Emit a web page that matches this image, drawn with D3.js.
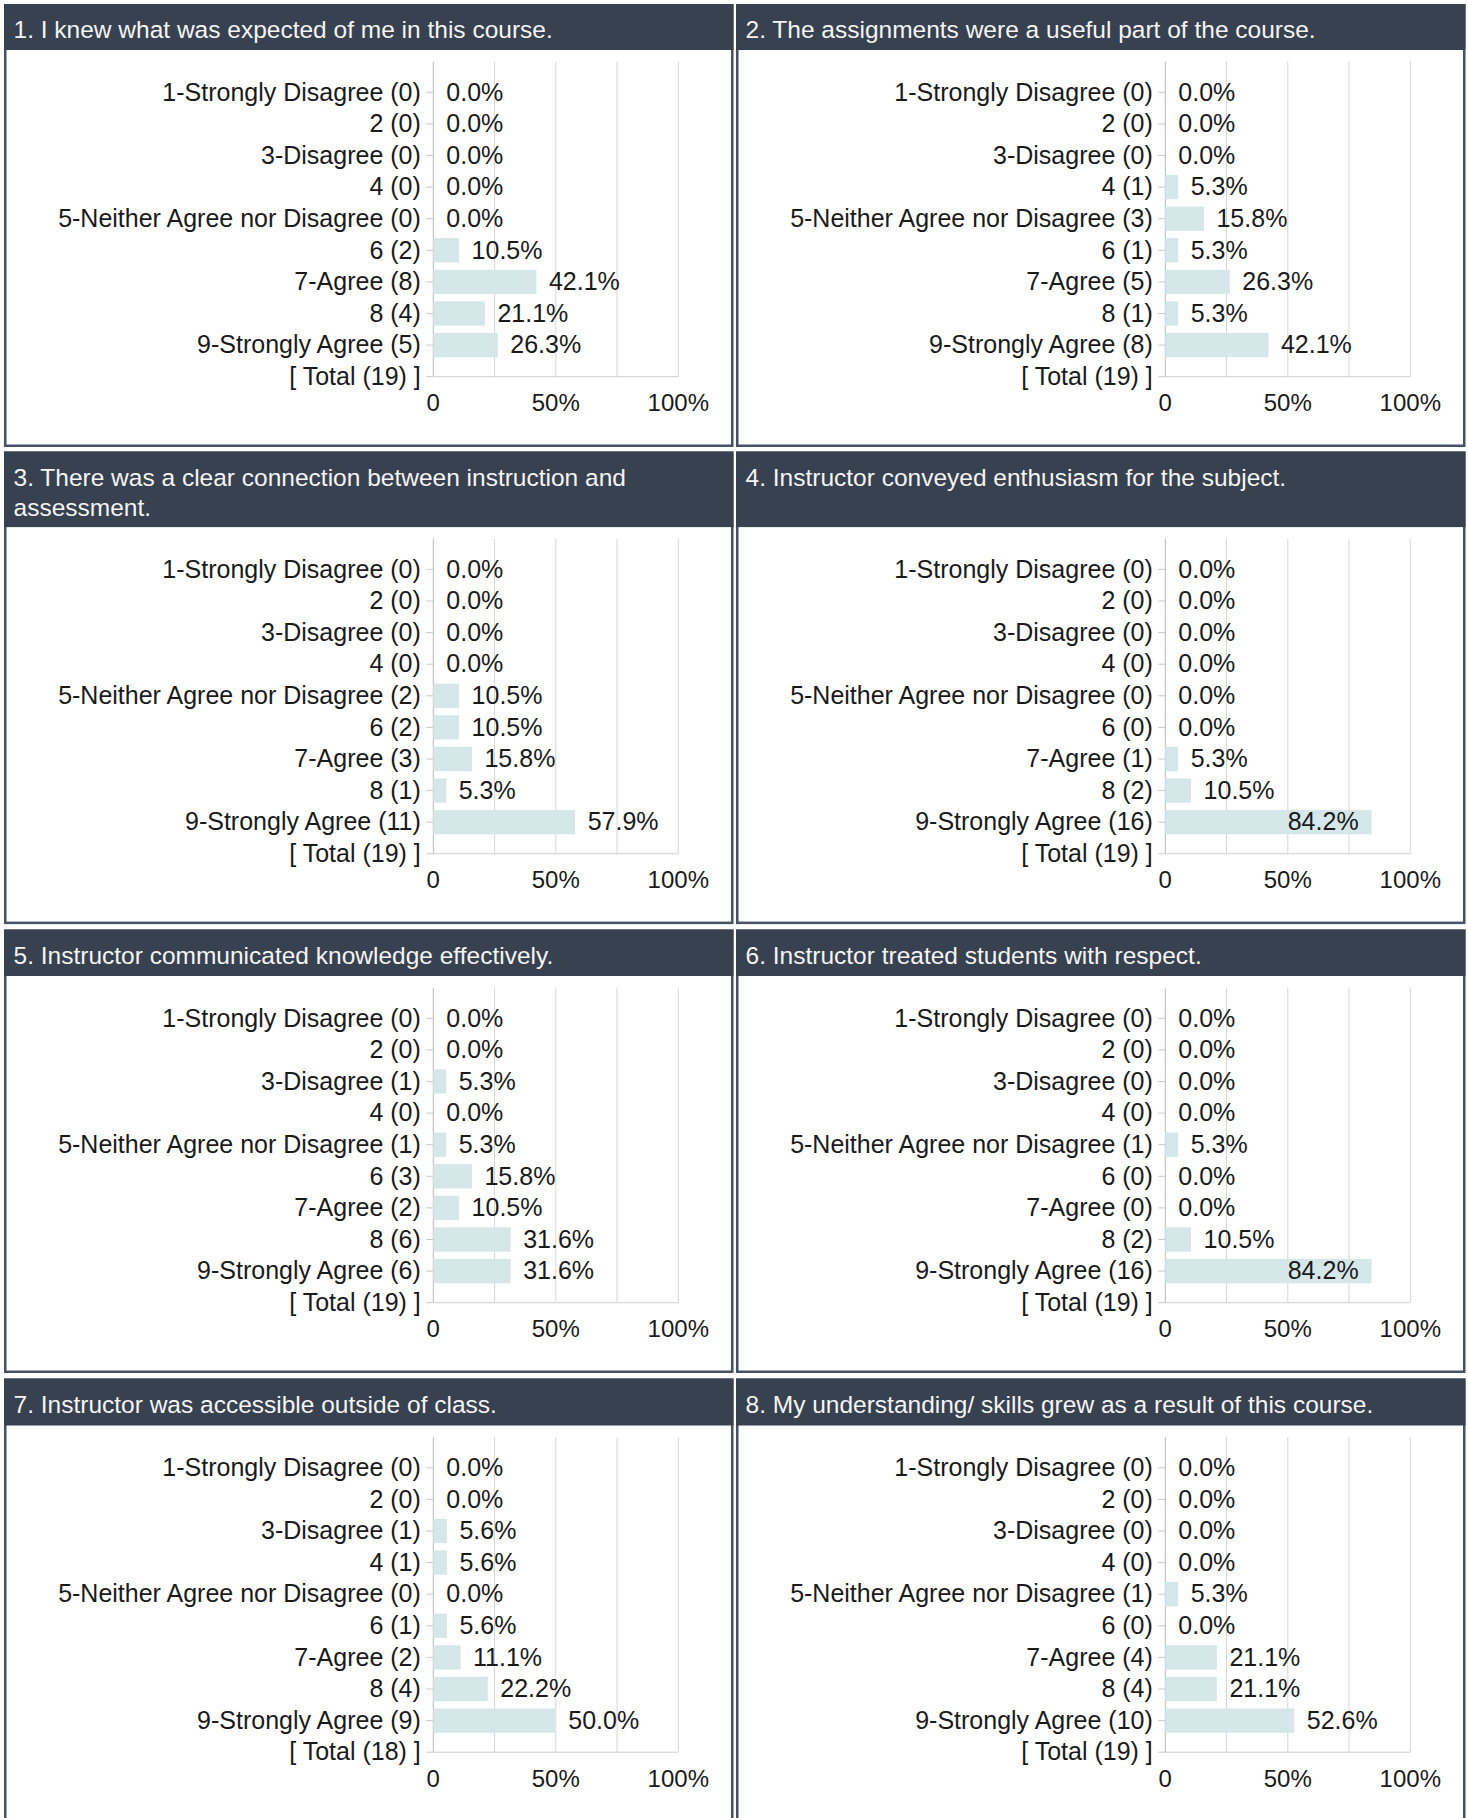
<!DOCTYPE html>
<html>
<head>
<meta charset="utf-8">
<script src="https://cdn.jsdelivr.net/npm/d3@7"></script>
<style>
  body { margin: 0; background: #fff; }
  text { font-family: "Liberation Sans", Arial, sans-serif; }
</style>
</head>
<body>
<script>
const width = 1468, height = 1818;

// answer scale, same for every question
const categories = ["1-Strongly Disagree", "2", "3-Disagree", "4", "5-Neither Agree nor Disagree",
                    "6", "7-Agree", "8", "9-Strongly Agree"];

const titles = [
  ["1. I knew what was expected of me in this course."],
  ["2. The assignments were a useful part of the course."],
  ["3. There was a clear connection between instruction and", "assessment."],
  ["4. Instructor conveyed enthusiasm for the subject."],
  ["5. Instructor communicated knowledge effectively."],
  ["6. Instructor treated students with respect."],
  ["7. Instructor was accessible outside of class."],
  ["8. My understanding/ skills grew as a result of this course."]
];

// response counts per question, in category order
const q1 = [0, 0, 0, 0, 0, 2, 8, 4, 5];
const q2 = [0, 0, 0, 1, 3, 1, 5, 1, 8];
const q3 = [0, 0, 0, 0, 2, 2, 3, 1, 11];
const q4 = [0, 0, 0, 0, 0, 0, 1, 2, 16];
const q5 = [0, 0, 1, 0, 1, 3, 2, 6, 6];
const q6 = [0, 0, 0, 0, 1, 0, 0, 2, 16];
const q7 = [0, 0, 1, 1, 0, 1, 2, 4, 9];
const q8 = [0, 0, 0, 0, 1, 0, 4, 4, 10];
const counts = [q1, q2, q3, q4, q5, q6, q7, q8];
const totals = [19, 19, 19, 19, 19, 19, 18, 19];

const xTickValues = [0, 0.5, 1];
const xTickLabels = ["0", "50%", "100%"];
const gridValues = [0, 0.25, 0.5, 0.75, 1];

// layout
const colX = [4, 736], panelW = 729.5;
const rowTop = [4, 451.5, 929.5, 1378.5];
const headerH = [46, 75.6, 46.5, 47];
const bodyH = 397;
const borderColor = "#455165", headerColor = "#37414f";
const barColor = "#d5e7e9";

const svg = d3.select("body").append("svg")
    .attr("width", width).attr("height", height);

counts.forEach((vals, qi) => {
    const px = colX[qi % 2];
    const r = Math.floor(qi / 2);
    const py = rowTop[r];
    const hb = py + headerH[r];
    const g = svg.append("g");

    // panel frame + header
    g.append("rect")
        .attr("x", px + 1.25).attr("y", py + 1.25)
        .attr("width", panelW - 2.5).attr("height", headerH[r] + bodyH - 2.5)
        .attr("fill", "#fff").attr("stroke", borderColor).attr("stroke-width", 2.5);
    g.append("rect")
        .attr("x", px).attr("y", py)
        .attr("width", panelW).attr("height", headerH[r])
        .attr("fill", headerColor);
    g.append("g").selectAll("text").data(titles[qi]).enter().append("text")
        .attr("x", px + 9.5)
        .attr("y", (d, i) => py + 34 + i * 30)
        .attr("fill", "#f4f4f4")
        .attr("font-size", 24.5)
        .text(d => d);

    const axisX = px + 429.3;
    const x = d3.scaleLinear().domain([0, 1]).range([axisX, axisX + 245]);
    const rows = categories.map((c, i) => `${c} (${vals[i]})`);
    const totalLabel = `[ Total (${totals[qi]}) ]`;
    const y = d3.scalePoint().domain([...rows, totalLabel]).range([hb + 42.3, hb + 326.7]);
    const gridTop = hb + 11.7, base = y(totalLabel);

    // gridlines
    g.append("g").selectAll("line").data(gridValues).enter().append("line")
        .attr("x1", d => x(d)).attr("x2", d => x(d))
        .attr("y1", gridTop).attr("y2", base)
        .attr("stroke", d => d === 0 ? "#b8b8b8" : "#d6d6d6").attr("stroke-width", 1);
    // baseline
    g.append("line")
        .attr("x1", x(0)).attr("x2", x(1)).attr("y1", base).attr("y2", base)
        .attr("stroke", "#cfcfcf");

    // category ticks and labels
    const yAxis = g.append("g");
    yAxis.selectAll("line").data(y.domain()).enter().append("line")
        .attr("x1", axisX - 7).attr("x2", axisX)
        .attr("y1", d => y(d)).attr("y2", d => y(d))
        .attr("stroke", "#c8c8c8");
    yAxis.selectAll("text").data(y.domain()).enter().append("text")
        .attr("x", axisX - 12.5).attr("y", d => y(d)).attr("dy", "0.33em")
        .attr("text-anchor", "end").attr("font-size", 25).attr("fill", "#1a1a1a")
        .text(d => d);

    // bars
    const data = vals.map((v, i) => ({ row: rows[i], pct: v / totals[qi] }));
    const barH = 24.3;
    g.append("g").selectAll("rect").data(data).enter().append("rect")
        .attr("x", x(0)).attr("y", d => y(d.row) - barH / 2)
        .attr("width", d => x(d.pct) - x(0)).attr("height", barH)
        .attr("fill", barColor);

    // value labels
    g.append("g").selectAll("text").data(data).enter().append("text")
        .attr("y", d => y(d.row)).attr("dy", "0.33em")
        .attr("font-size", 25).attr("fill", "#1a1a1a")
        .text(d => (d.pct * 100).toFixed(1) + "%")
        .each(function(d) {
            const t = d3.select(this);
            const w = this.getComputedTextLength();
            const end = x(d.pct);
            if (end + 12.5 + w > x(1) + 30) {
                t.attr("x", end - 13).attr("text-anchor", "end");
            } else {
                t.attr("x", d.pct === 0 ? end + 13 : end + 12.5);
            }
        });

    // x tick labels
    g.append("g").selectAll("text").data(xTickValues).enter().append("text")
        .attr("x", d => x(d)).attr("y", hb + 361)
        .attr("text-anchor", "middle").attr("font-size", 24).attr("fill", "#1a1a1a")
        .text((d, i) => xTickLabels[i]);
});
</script>
</body>
</html>
